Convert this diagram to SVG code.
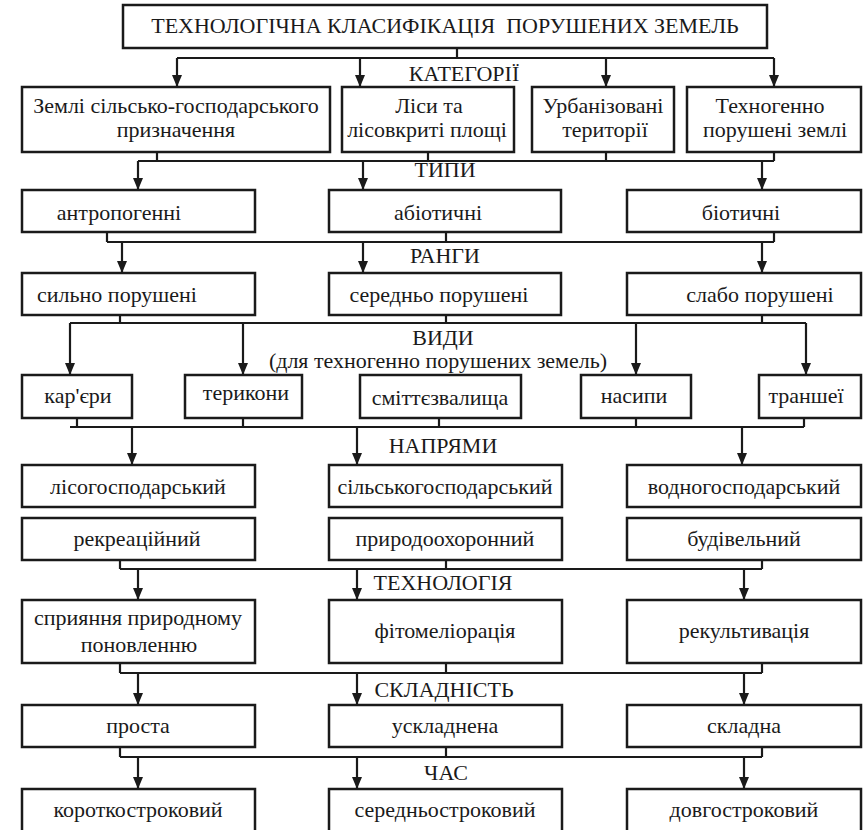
<svg xmlns="http://www.w3.org/2000/svg" width="868" height="830" viewBox="0 0 868 830">
<defs>
<style>
rect.b{fill:#fff;stroke:#1a1a1a;stroke-width:2.5}
text{font-family:'Liberation Serif','Times New Roman',Tinos,'DejaVu Serif',serif;font-size:22px;fill:#1a1a1a;text-anchor:middle}
.c path{fill:none;stroke:#1a1a1a;stroke-width:2.2}
.c path.a{marker-end:url(#ah)}
</style>
<marker id="ah" viewBox="0 -5 12 10" refX="12" refY="0" markerWidth="12" markerHeight="10" markerUnits="userSpaceOnUse" orient="auto">
<path d="M0,-5 L12,0 L0,5 z" fill="#1a1a1a"/>
</marker>
</defs>
<rect width="868" height="830" fill="#fff"/>

<g class="c" id="connectors">
<path d="M457,48 V58 M177,58 H774"/>
<path class="a" d="M177,58 V87"/><path class="a" d="M360,58 V87"/><path class="a" d="M606,58 V87"/><path class="a" d="M774,58 V87"/>
<path d="M157,152 V161 M428,152 V161 M606,152 V161 M774,152 V161 M138,161 H774"/>
<path class="a" d="M138,161 V190"/><path class="a" d="M363,161 V190"/><path class="a" d="M762,161 V190"/>
<path d="M107,232 V242 M446,232 V242 M774,232 V242 M107,242 H774"/>
<path class="a" d="M122,242 V273"/><path class="a" d="M363,242 V273"/><path class="a" d="M762,242 V273"/>
<path d="M120,315 V323 M446,315 V323 M762,315 V323 M70,323 H806"/>
<path class="a" d="M70,323 V375"/><path class="a" d="M243,323 V375"/><path class="a" d="M636,323 V375"/><path class="a" d="M806,323 V375"/>
<path d="M77,418 V427 M243,418 V427 M439,418 V427 M636,418 V427 M804,418 V427 M70,427 H804"/>
<path class="a" d="M132,427 V465"/><path class="a" d="M357,427 V465"/><path class="a" d="M742,427 V465"/>
<path d="M120,560 V569 M446,560 V569 M762,560 V569 M120,569 H762"/>
<path class="a" d="M138,569 V600"/><path class="a" d="M357,569 V600"/><path class="a" d="M744,569 V600"/>
<path d="M120,663 V673 M446,663 V673 M762,663 V673 M120,673 H762"/>
<path class="a" d="M138,673 V705"/><path class="a" d="M357,673 V705"/><path class="a" d="M744,673 V705"/>
<path d="M120,747 V757 M446,747 V757 M762,747 V757 M120,757 H762"/>
<path class="a" d="M138,757 V789"/><path class="a" d="M357,757 V789"/><path class="a" d="M744,757 V789"/>
</g>

<g id="labels" font-family="'Liberation Serif', serif">
<text x="464" y="81">КАТЕГОРІЇ</text>
<text x="445" y="177">ТИПИ</text>
<text x="445" y="263">РАНГИ</text>
<text x="443" y="345">ВИДИ</text>
<text x="438" y="368">(для техногенно порушених земель)</text>
<text x="443" y="453">НАПРЯМИ</text>
<text x="443" y="590">ТЕХНОЛОГІЯ</text>
<text x="444" y="697">СКЛАДНІСТЬ</text>
<text x="446" y="780">ЧАС</text>
</g>

<g id="title"><rect class="b" x="123" y="5" width="644" height="43"/><text x="445" y="33" xml:space="preserve">ТЕХНОЛОГІЧНА КЛАСИФІКАЦІЯ  ПОРУШЕНИХ ЗЕМЕЛЬ</text></g>

<g id="cat1"><rect class="b" x="22" y="87" width="308" height="65"/><text x="176" y="113">Землі сільсько-господарського</text><text x="176" y="137">призначення</text></g>
<g id="cat2"><rect class="b" x="342" y="87" width="172" height="65"/><text x="429" y="113">Ліси та</text><text x="427" y="137">лісовкриті площі</text></g>
<g id="cat3"><rect class="b" x="532" y="87" width="142" height="65"/><text x="603" y="113">Урбанізовані</text><text x="605" y="137">території</text></g>
<g id="cat4"><rect class="b" x="687" y="87" width="174" height="65"/><text x="770" y="113">Техногенно</text><text x="775" y="137">порушені землі</text></g>

<g id="type1"><rect class="b" x="22" y="190" width="233" height="42"/><text x="119" y="220">антропогенні</text></g>
<g id="type2"><rect class="b" x="329" y="190" width="232" height="42"/><text x="438" y="220">абіотичні</text></g>
<g id="type3"><rect class="b" x="627" y="190" width="234" height="42"/><text x="741" y="220">біотичні</text></g>

<g id="rank1"><rect class="b" x="22" y="273" width="233" height="42"/><text x="117" y="302">сильно порушені</text></g>
<g id="rank2"><rect class="b" x="329" y="273" width="232" height="42"/><text x="439" y="302">середньо порушені</text></g>
<g id="rank3"><rect class="b" x="627" y="273" width="234" height="42"/><text x="760" y="302">слабо порушені</text></g>

<g id="kind1"><rect class="b" x="22" y="375" width="110" height="43"/><text x="78" y="403">кар'єри</text></g>
<g id="kind2"><rect class="b" x="185" y="375" width="117" height="43"/><text x="246" y="400">терикони</text></g>
<g id="kind3"><rect class="b" x="360" y="375" width="161" height="43"/><text x="440" y="405">сміттєзвалища</text></g>
<g id="kind4"><rect class="b" x="581" y="375" width="110" height="43"/><text x="634" y="403">насипи</text></g>
<g id="kind5"><rect class="b" x="759" y="375" width="102" height="43"/><text x="806" y="403">траншеї</text></g>

<g id="dir1"><rect class="b" x="22" y="465" width="233" height="42"/><text x="138" y="494">лісогосподарський</text></g>
<g id="dir2"><rect class="b" x="329" y="465" width="233" height="42"/><text x="445" y="494">сільськогосподарський</text></g>
<g id="dir3"><rect class="b" x="627" y="465" width="234" height="42"/><text x="744" y="494">водногосподарський</text></g>
<g id="dir4"><rect class="b" x="22" y="518" width="233" height="42"/><text x="137" y="546">рекреаційний</text></g>
<g id="dir5"><rect class="b" x="329" y="518" width="233" height="42"/><text x="445" y="546">природоохоронний</text></g>
<g id="dir6"><rect class="b" x="627" y="518" width="234" height="42"/><text x="744" y="546">будівельний</text></g>

<g id="tech1"><rect class="b" x="22" y="600" width="233" height="63"/><text x="138" y="625">сприяння природному</text><text x="139" y="652">поновленню</text></g>
<g id="tech2"><rect class="b" x="329" y="600" width="233" height="63"/><text x="445" y="638">фітомеліорація</text></g>
<g id="tech3"><rect class="b" x="627" y="600" width="234" height="63"/><text x="744" y="638">рекультивація</text></g>

<g id="comp1"><rect class="b" x="22" y="705" width="233" height="42"/><text x="138" y="733">проста</text></g>
<g id="comp2"><rect class="b" x="329" y="705" width="233" height="42"/><text x="445" y="733">ускладнена</text></g>
<g id="comp3"><rect class="b" x="627" y="705" width="234" height="42"/><text x="744" y="733">складна</text></g>

<g id="time1"><rect class="b" x="22" y="789" width="233" height="45"/><text x="138" y="817">короткостроковий</text></g>
<g id="time2"><rect class="b" x="329" y="789" width="233" height="45"/><text x="445" y="817">середньостроковий</text></g>
<g id="time3"><rect class="b" x="627" y="789" width="234" height="45"/><text x="744" y="817">довгостроковий</text></g>
</svg>
